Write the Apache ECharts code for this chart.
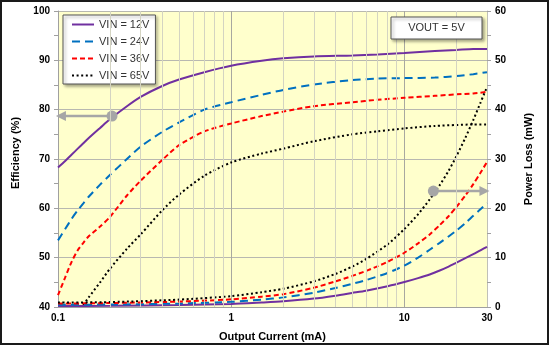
<!DOCTYPE html>
<html>
<head>
<meta charset="utf-8">
<script src="https://cdn.jsdelivr.net/npm/echarts@6/dist/echarts.min.js"></script>
<style>
  html, body { margin: 0; padding: 0; background: #fff; }
  #chart { width: 550px; height: 347px; }
</style>
</head>
<body>
<div id="chart"></div>
<script>
// Output current (mA) sample points for the efficiency curves
const effCurrent = [0.1, 0.11, 0.12, 0.13, 0.14, 0.15, 0.175, 0.2, 0.25, 0.3, 0.4, 0.5, 0.7, 1, 1.5, 2, 3, 5, 7, 10, 15, 20, 25, 30];
// Efficiency (%) for each input voltage
const eff12 = [68.3, 69.6, 70.9, 72.1, 73.2, 74.2, 76.3, 78.1, 80.7, 82.6, 84.8, 86.1, 87.6, 88.9, 89.9, 90.4, 90.8, 91.0, 91.2, 91.5, 91.9, 92.1, 92.3, 92.3];
const eff24 = [53.5, 55.8, 57.9, 59.6, 61.0, 62.3, 64.8, 66.8, 70.0, 72.5, 75.5, 77.4, 80.0, 81.5, 83.0, 84.0, 85.1, 86.0, 86.3, 86.4, 86.5, 86.8, 87.2, 87.6];
const eff36 = [42.4, 46.0, 49.2, 51.5, 53.0, 54.3, 56.3, 58.3, 62.6, 65.6, 69.8, 72.8, 75.6, 77.2, 78.7, 79.6, 80.7, 81.5, 82.0, 82.4, 82.8, 83.1, 83.3, 83.6];
const eff65 = [null, null, null, null, 40.4, 41.9, 45.0, 47.8, 51.8, 54.7, 59.6, 62.8, 66.6, 69.3, 71.1, 72.1, 73.6, 75.0, 75.6, 76.2, 76.7, 76.9, 77.0, 77.0];

// Output current (mA) sample points for the power-loss curves
const lossCurrent = [0.1, 0.2, 0.5, 1, 1.5, 2, 3, 4, 5, 6, 8, 10, 12, 14, 16, 18, 20, 22.5, 25, 27.5, 30];
// Power loss (mW) for each input voltage
const loss12 = [0.2, 0.25, 0.4, 0.6, 0.9, 1.15, 1.7, 2.3, 2.85, 3.3, 4.2, 5.05, 5.85, 6.6, 7.4, 8.2, 9.0, 9.9, 10.7, 11.5, 12.2];
const loss24 = [0.45, 0.5, 0.7, 1.05, 1.5, 1.95, 2.9, 3.85, 4.7, 5.45, 6.9, 8.4, 10.0, 11.6, 13.0, 14.3, 15.5, 17.0, 18.5, 19.8, 21.1];
const loss36 = [0.7, 0.8, 1.1, 1.55, 2.1, 2.6, 3.9, 5.2, 6.3, 7.3, 9.15, 11.0, 12.9, 14.7, 16.6, 18.4, 20.3, 22.6, 24.9, 27.2, 29.4];
const loss65 = [0.9, 1.0, 1.5, 2.2, 3.0, 3.7, 5.2, 6.7, 8.2, 9.7, 12.7, 15.8, 18.8, 21.8, 24.7, 27.6, 30.6, 34.3, 37.9, 41.4, 44.6];

const seriesNames = ['VIN = 12V', 'VIN = 24V', 'VIN = 36V', 'VIN = 65V'];
const seriesColors = ['#7030A0', '#0070C0', '#FF0000', '#000000'];

// Minor log-decade grid positions (mA)
const minorGridTicks = [0.2, 0.3, 0.4, 0.5, 0.6, 0.7, 0.8, 0.9, 2, 3, 4, 5, 6, 7, 8, 9, 20];

// Pointer annotations: [current, value] of dot and arrow tip
const effPointer = [[0.205, 78.7], [0.104, 78.7]];
const lossPointer = [[14.7, 23.5], [29.0, 23.5]];

const effSets = [eff12, eff24, eff36, eff65];
const lossSets = [loss12, loss24, loss36, loss65];
const lineStyles = [
  { width: 2, type: 'solid' },
  { width: 2, type: [8, 5] },
  { width: 2, type: [5, 3] },
  { width: 2, type: [2, 2.6] }
];

const pair = (xs, ys) => xs.map((x, i) => [x, ys[i]]).filter(p => p[1] !== null);

const FONT = '"Liberation Sans", Arial, sans-serif';
const series = [];

// Minor vertical grid lines
series.push({
  type: 'line',
  name: 'minorGrid',
  data: [],
  silent: true,
  z: 1,
  markLine: {
    silent: true,
    symbol: 'none',
    label: { show: false },
    animation: false,
    lineStyle: { color: '#d4d4c2', width: 1, type: 'solid' },
    data: minorGridTicks.map(v => ({ xAxis: v }))
  }
});

function curve(name, axisIndex, data, i) {
  return {
    type: 'line',
    name: name,
    yAxisIndex: axisIndex,
    data: data,
    symbol: 'none',
    smooth: 0.25,
    z: 3,
    color: seriesColors[i],
    lineStyle: Object.assign({ color: seriesColors[i], cap: 'butt' }, lineStyles[i])
  };
}

effSets.forEach((ys, i) => series.push(curve(seriesNames[i], 0, pair(effCurrent, ys), i)));
lossSets.forEach((ys, i) => series.push(curve(seriesNames[i], 1, pair(lossCurrent, ys), i)));

function pointerSeries(points, axisIndex, rotate) {
  return {
    type: 'line',
    name: 'pointer' + axisIndex,
    yAxisIndex: axisIndex,
    silent: true,
    z: 4,
    color: '#a6a6a6',
    lineStyle: { color: '#a6a6a6', width: 2.5 },
    showSymbol: true,
    data: [
      { value: points[0], symbol: 'circle', symbolSize: 11, itemStyle: { color: '#a6a6a6' } },
      { value: points[1], symbol: 'triangle', symbolSize: [10, 10], symbolRotate: rotate, itemStyle: { color: '#a6a6a6' } }
    ]
  };
}
series.push(pointerSeries(effPointer, 0, 90));
series.push(pointerSeries(lossPointer, 1, -90));

const chart = echarts.init(document.getElementById('chart'), null, { renderer: 'canvas' });
chart.setOption({
  animation: false,
  backgroundColor: '#ffffff',
  textStyle: { fontFamily: FONT },
  grid: {
    left: 58, right: 63, top: 11, bottom: 40,
    outerBoundsMode: 'none',
    containLabel: false,
    show: true, backgroundColor: '#FFFFCC', borderWidth: 0
  },
  legend: {
    data: seriesNames,
    orient: 'vertical',
    left: 63, top: 15,
    padding: [4, 6, 3, 8],
    itemGap: 6,
    itemWidth: 22,
    itemHeight: 12,
    backgroundColor: '#ffffff',
    borderColor: '#555555',
    borderWidth: 1,
    shadowColor: 'rgba(0,0,0,0.35)',
    shadowBlur: 3,
    shadowOffsetX: 2,
    shadowOffsetY: 2,
    selectedMode: false,
    itemStyle: { opacity: 0 },
    textStyle: { fontSize: 11, color: '#333333', fontFamily: FONT }
  },
  xAxis: {
    type: 'log',
    logBase: 10,
    min: 0.1,
    max: 30,
    name: 'Output Current (mA)',
    nameLocation: 'middle',
    nameGap: 24,
    nameTextStyle: { fontWeight: 'bold', fontSize: 11, color: '#000', fontFamily: FONT },
    axisLine: { show: true, lineStyle: { color: '#a0a0a0', width: 1 } },
    axisTick: { show: false },
    splitLine: { show: true, lineStyle: { color: '#a8a8a0', width: 1 } },
    axisLabel: {
      fontWeight: 'bold', fontSize: 10, color: '#000', margin: 6, fontFamily: FONT,
      formatter: v => String(+(+v).toPrecision(3))
    }
  },
  yAxis: [
    {
      type: 'value',
      position: 'left',
      min: 40, max: 100, interval: 10,
      name: 'Efficiency (%)',
      nameLocation: 'middle',
      nameGap: 37,
      nameRotate: 90,
      nameTextStyle: { fontWeight: 'bold', fontSize: 11, color: '#000', fontFamily: FONT, padding: [0, 0, 0, 12] },
      axisLine: { show: true, lineStyle: { color: '#a0a0a0', width: 1 } },
      axisTick: { show: true, length: 4, lineStyle: { color: '#a0a0a0' } },
      minorTick: { show: true, splitNumber: 2, length: 4, lineStyle: { color: '#a0a0a0' } },
      splitLine: { show: true, lineStyle: { color: '#b8b8b0', width: 1 } },
      axisLabel: { fontWeight: 'bold', fontSize: 10, color: '#000', margin: 8, fontFamily: FONT }
    },
    {
      type: 'value',
      position: 'right',
      min: 0, max: 60, interval: 10,
      name: 'Power Loss (mW)',
      nameLocation: 'middle',
      nameGap: 36,
      nameRotate: 90,
      nameTextStyle: { fontWeight: 'bold', fontSize: 11, color: '#000', fontFamily: FONT },
      axisLine: { show: true, lineStyle: { color: '#c0c0b8', width: 1 } },
      axisTick: { show: true, length: 4, lineStyle: { color: '#a0a0a0' } },
      minorTick: { show: true, splitNumber: 2, length: 4, lineStyle: { color: '#a0a0a0' } },
      splitLine: { show: false },
      axisLabel: { fontWeight: 'bold', fontSize: 10, color: '#000', margin: 8, fontFamily: FONT }
    }
  ],
  graphic: [
    {
      type: 'rect',
      z: 10,
      shape: { x: 391, y: 17, width: 91, height: 22 },
      style: {
        fill: '#ffffff', stroke: '#555555', lineWidth: 1,
        shadowColor: 'rgba(0,0,0,0.35)', shadowBlur: 3, shadowOffsetX: 2, shadowOffsetY: 2
      }
    },
    {
      type: 'text',
      z: 11,
      x: 436.5, y: 28,
      style: {
        text: 'VOUT = 5V', fontSize: 11, fontFamily: FONT, fill: '#333333',
        align: 'center', verticalAlign: 'middle'
      }
    },
    {
      type: 'rect',
      z: 20,
      shape: { x: 1, y: 1, width: 547, height: 343 },
      style: { fill: 'none', stroke: '#1a1a1a', lineWidth: 2 }
    }
  ],
  series: series
});
</script>
</body>
</html>
